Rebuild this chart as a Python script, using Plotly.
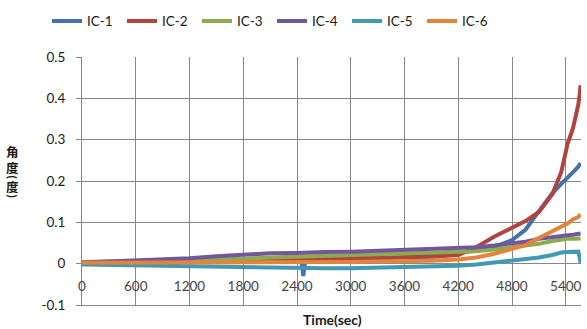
import plotly.graph_objects as go

# ---- data ----
time_sec = [0, 300, 600, 900, 1200, 1500, 1800, 2100, 2400, 2450, 2470, 2490, 2700, 3000, 3300,
            3600, 3900, 4200, 4400, 4600, 4800, 4950, 5100, 5250, 5350, 5420, 5480, 5520, 5540, 5555, 5565]

ic1 = [0.003, 0.003, 0.004, 0.004, 0.005, 0.005, 0.005, 0.006, 0.006, 0.006, -0.030, 0.005, 0.007, 0.009, 0.012,
       0.016, 0.020, 0.026, 0.032, 0.040, 0.057, 0.082, 0.127, 0.170, 0.193, 0.207, 0.222, 0.230, 0.235, 0.240, 0.243]
ic2 = [0.002, 0.003, 0.004, 0.005, 0.006, 0.007, 0.008, 0.009, 0.010, 0.010, 0.010, 0.010, 0.011, 0.012, 0.013,
       0.015, 0.017, 0.021, 0.040, 0.065, 0.087, 0.103, 0.125, 0.168, 0.222, 0.290, 0.327, 0.360, 0.385, 0.410, 0.432]
ic3 = [0.004, 0.005, 0.006, 0.007, 0.008, 0.010, 0.012, 0.015, 0.017, 0.017, 0.017, 0.017, 0.018, 0.020, 0.022,
       0.024, 0.026, 0.028, 0.030, 0.034, 0.039, 0.043, 0.048, 0.055, 0.059, 0.060, 0.060, 0.060, 0.061, 0.061, 0.061]
ic4 = [0.003, 0.005, 0.007, 0.010, 0.013, 0.018, 0.022, 0.025, 0.026, 0.026, 0.026, 0.027, 0.028, 0.029, 0.031,
       0.033, 0.035, 0.037, 0.040, 0.044, 0.049, 0.053, 0.060, 0.065, 0.068, 0.069, 0.070, 0.071, 0.072, 0.073, 0.073]
ic5 = [-0.002, -0.003, -0.005, -0.006, -0.008, -0.009, -0.010, -0.011, -0.011, -0.011, -0.011, -0.011, -0.011, -0.011, -0.010,
       -0.009, -0.008, -0.005, -0.002, 0.003, 0.006, 0.010, 0.015, 0.021, 0.027, 0.028, 0.029, 0.030, 0.029, 0.015, 0.002]
ic6 = [0.002, 0.002, 0.002, 0.002, 0.002, 0.003, 0.003, 0.003, 0.003, 0.003, 0.003, 0.003, 0.004, 0.004, 0.005,
       0.005, 0.007, 0.010, 0.015, 0.024, 0.035, 0.045, 0.062, 0.078, 0.088, 0.097, 0.107, 0.110, 0.113, 0.117, 0.118]

series_names = ["IC-1", "IC-2", "IC-3", "IC-4", "IC-5", "IC-6"]
series_values = [ic1, ic2, ic3, ic4, ic5, ic6]
series_colors = ["#4472AC", "#B0443F", "#8CAB4E", "#72589A", "#4299B3", "#E3843A"]

x_ticks = [0, 600, 1200, 1800, 2400, 3000, 3600, 4200, 4800, 5400]
y_ticks = [-0.1, 0, 0.1, 0.2, 0.3, 0.4, 0.5]
y_tick_labels = ["-0.1", "0", "0.1", "0.2", "0.3", "0.4", "0.5"]

x_title = "Time(sec)"
y_title_chars = ["角", "度", "(", "度", ")"]

FONT = "Lato, 'Noto Sans CJK SC', sans-serif"
GRID = "#878787"

fig = go.Figure()
for name, vals, col in zip(series_names, series_values, series_colors):
    fig.add_trace(go.Scatter(x=time_sec, y=vals, mode="lines", name=name,
                             line=dict(color=col, width=4)))

W, H = 587, 329
ML, MR, MT, MB = 82, 6, 55, 24
PW, PH = W - ML - MR, H - MT - MB

fig.update_layout(
    width=W, height=H,
    margin=dict(l=ML, r=MR, t=MT, b=MB),
    paper_bgcolor="white", plot_bgcolor="white",
    font=dict(family=FONT, size=13, color="#1a1a1a"),
    showlegend=True,
    legend=dict(orientation="h", x=(47 - ML) / PW, xanchor="left",
                y=(H - MB - 19) / PH, yanchor="middle",
                font=dict(size=13.5, color="#1a1a1a"),
                bgcolor="rgba(0,0,0,0)", itemwidth=30, tracegroupgap=0,
                entrywidth=30, entrywidthmode="pixels"),
    xaxis=dict(range=[0, 5570], tickvals=x_ticks, ticktext=[str(v) for v in x_ticks],
               showgrid=True, gridcolor=GRID, gridwidth=1,
               showline=True, linecolor=GRID, linewidth=1,
               ticks="", ticklabelposition="inside", ticklabeloverflow="allow",
               ticklabelstandoff=11, zeroline=False, mirror=False,
               tickfont=dict(size=13.5)),
    yaxis=dict(range=[-0.1, 0.5], tickvals=y_ticks, ticktext=y_tick_labels,
               showgrid=True, gridcolor=GRID, gridwidth=1,
               showline=True, linecolor=GRID, linewidth=1,
               ticks="outside", ticklen=5, tickcolor=GRID,
               ticklabelstandoff=8, zeroline=False,
               tickfont=dict(size=13.5)),
)

# x axis title
fig.add_annotation(text="<b>" + x_title + "</b>", xref="paper", yref="paper",
                   x=(332 - ML) / PW, y=(H - MB - 320) / PH, xanchor="center", yanchor="middle",
                   showarrow=False, font=dict(family=FONT, size=14, color="#1a1a1a"))

# y axis title, stacked vertically (parentheses rotated as in vertical text)
char_y = [150, 166.5, 176, 185.5, 195]
for ch, py in zip(y_title_chars, char_y):
    is_paren = ch in "()"
    fig.add_annotation(text="<b>" + ch + "</b>", xref="paper", yref="paper",
                       x=(12.5 - ML) / PW, y=(H - MB - py) / PH,
                       xanchor="center", yanchor="middle", showarrow=False,
                       textangle=90 if is_paren else 0,
                       font=dict(family="Lato, sans-serif" if is_paren else "'Noto Sans CJK SC', sans-serif",
                                 size=12 if is_paren else 12.5, color="#1a1a1a"))

fig.write_html("out.html", config={"displayModeBar": False},
               post_script="document.body.style.margin='0';document.body.style.padding='0';")
